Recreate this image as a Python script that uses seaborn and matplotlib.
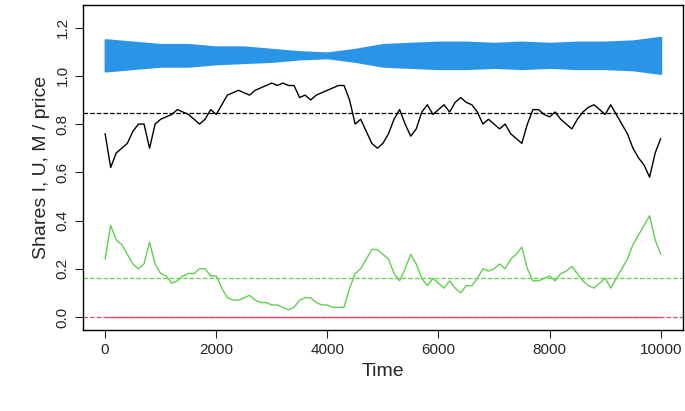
import numpy as np
import matplotlib
matplotlib.use("Agg")
import matplotlib.pyplot as plt
import seaborn as sns

time = list(range(0, 10001, 100))
share_m = [0.76, 0.62, 0.68, 0.70, 0.72, 0.77, 0.80, 0.80, 0.70, 0.80,
           0.82, 0.83, 0.84, 0.86, 0.85, 0.84, 0.82, 0.80, 0.82, 0.86,
           0.84, 0.88, 0.92, 0.93, 0.94, 0.93, 0.92, 0.94, 0.95, 0.96,
           0.97, 0.96, 0.97, 0.96, 0.96, 0.91, 0.92, 0.90, 0.92, 0.93,
           0.94, 0.95, 0.96, 0.96, 0.90, 0.80, 0.82, 0.77, 0.72, 0.70,
           0.72, 0.76, 0.82, 0.86, 0.80, 0.75, 0.78, 0.85, 0.88, 0.84,
           0.86, 0.88, 0.85, 0.89, 0.91, 0.89, 0.88, 0.85, 0.80, 0.82,
           0.80, 0.78, 0.80, 0.76, 0.74, 0.72, 0.80, 0.86, 0.86, 0.84,
           0.83, 0.85, 0.82, 0.80, 0.78, 0.82, 0.85, 0.87, 0.88, 0.86,
           0.84, 0.88, 0.84, 0.80, 0.76, 0.70, 0.66, 0.63, 0.58, 0.68, 0.74]
share_u = [0.24, 0.38, 0.32, 0.30, 0.26, 0.22, 0.20, 0.22, 0.31, 0.22,
           0.18, 0.17, 0.14, 0.15, 0.17, 0.18, 0.18, 0.20, 0.20, 0.17,
           0.17, 0.12, 0.08, 0.07, 0.07, 0.08, 0.09, 0.07, 0.06, 0.06,
           0.05, 0.05, 0.04, 0.03, 0.04, 0.07, 0.08, 0.08, 0.06, 0.05,
           0.05, 0.04, 0.04, 0.04, 0.12, 0.18, 0.20, 0.24, 0.28, 0.28,
           0.26, 0.24, 0.18, 0.15, 0.20, 0.26, 0.22, 0.16, 0.13, 0.16,
           0.14, 0.12, 0.15, 0.12, 0.10, 0.13, 0.13, 0.16, 0.20, 0.19,
           0.20, 0.22, 0.20, 0.24, 0.26, 0.29, 0.20, 0.15, 0.15, 0.16,
           0.17, 0.15, 0.18, 0.19, 0.21, 0.18, 0.15, 0.13, 0.12, 0.14,
           0.16, 0.12, 0.16, 0.20, 0.24, 0.30, 0.34, 0.38, 0.42, 0.32, 0.26]
share_i = [0.0] * len(time)

# price band (envelope of the noisy blue series), every 500 steps
band_time = list(range(0, 10001, 500))
price_hi = [1.15, 1.14, 1.13, 1.13, 1.12, 1.12, 1.11, 1.10, 1.095, 1.11,
            1.13, 1.135, 1.14, 1.14, 1.135, 1.14, 1.135, 1.14, 1.14, 1.145, 1.16]
price_lo = [1.02, 1.03, 1.04, 1.04, 1.05, 1.055, 1.06, 1.07, 1.075, 1.06,
            1.04, 1.035, 1.03, 1.03, 1.035, 1.03, 1.035, 1.03, 1.03, 1.025, 1.01]

mean_m = 0.845
mean_u = 0.162

sns.set_style("white")
plt.rcParams["font.family"] = "Liberation Sans"
fig = plt.figure(figsize=(6.85, 4.11), dpi=100)
ax = fig.add_axes([0.121, 0.197, 0.876, 0.791])

blue = "#2a95e6"
ax.fill_between(band_time, price_lo, price_hi, color=blue, lw=1.5, edgecolor=blue)
sns.lineplot(x=time, y=share_m, ax=ax, color="black", lw=1.0)
sns.lineplot(x=time, y=share_u, ax=ax, color="#61d04f", lw=1.0)
sns.lineplot(x=time, y=share_i, ax=ax, color="#df536b", lw=1.0)
ax.axhline(mean_m, color="black", ls="--", lw=0.9)
ax.axhline(mean_u, color="#61d04f", ls="--", lw=0.9)
ax.axhline(0.0, color="#df536b", ls="--", lw=0.9)

ax.set_xlim(-400, 10400)
ax.set_ylim(-0.054, 1.294)
ax.set_xticks([0, 2000, 4000, 6000, 8000, 10000])
ax.set_yticks([0.0, 0.2, 0.4, 0.6, 0.8, 1.0, 1.2])
ax.set_yticklabels(["0.0", "0.2", "0.4", "0.6", "0.8", "1.0", "1.2"], rotation=90, va="center")
ax.tick_params(direction="out", length=6, labelsize=11, left=True, bottom=True)
for s in ax.spines.values():
    s.set_color("black")
    s.set_linewidth(1.0)
ax.set_xlabel("Time", fontsize=14)
ax.set_ylabel("Shares I, U, M / price", fontsize=14)

fig.savefig("out.png", dpi=100)
